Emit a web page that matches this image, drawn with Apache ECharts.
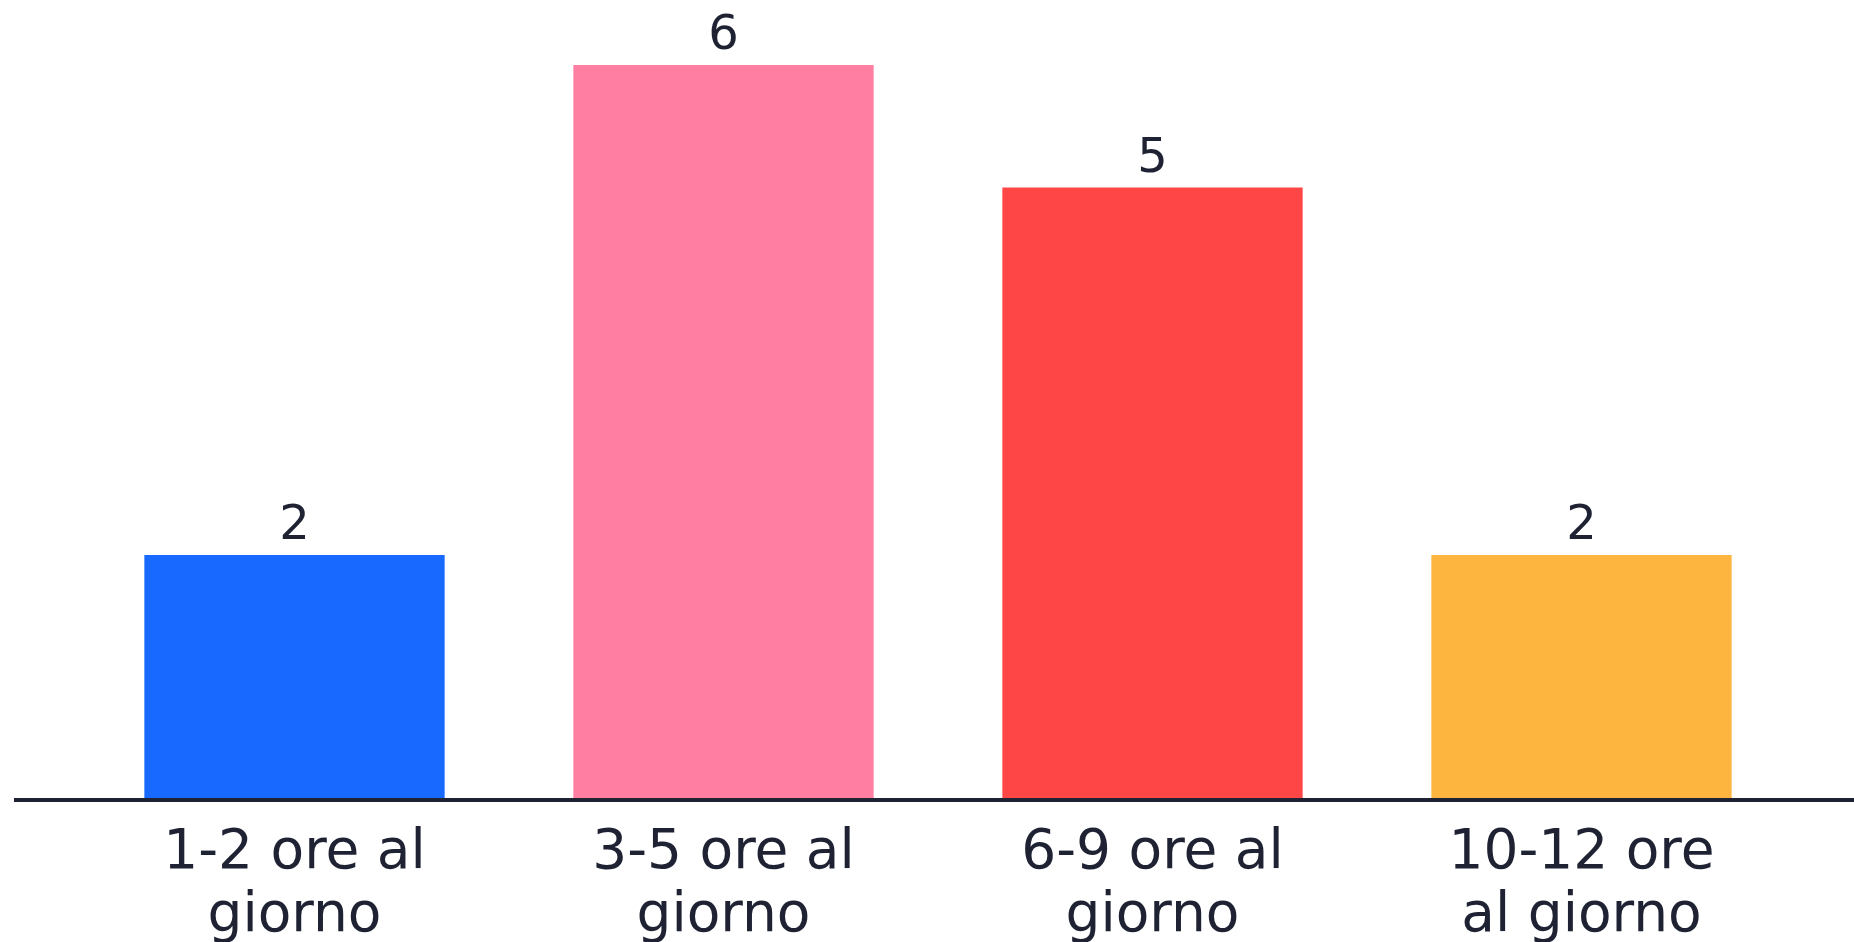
<!DOCTYPE html>
<html>
<head>
<meta charset="utf-8">
<script src="https://cdn.jsdelivr.net/npm/echarts@6/dist/echarts.min.js"></script>
<style>
html,body{margin:0;padding:0;background:#fff;}
#chart{width:1854px;height:942px;}
</style>
</head>
<body>
<div id="chart"></div>
<script>
const categories = ["1-2 ore al\ngiorno", "3-5 ore al\ngiorno", "6-9 ore al\ngiorno", "10-12 ore\nal giorno"];
const values = [2, 6, 5, 2];
const barColors = ["#1769FF", "#FF7EA1", "#FF4646", "#FDB540"];

const FONT = "DejaVu Sans";
const chart = echarts.init(document.getElementById('chart'), null, {renderer: 'canvas'});
const option = {
  animation: false,
  backgroundColor: '#ffffff',
  grid: {left: 80, right: 58, top: 65, bottom: 142, containLabel: false, outerBoundsMode: 'none'},
  xAxis: {
    type: 'category',
    data: categories,
    axisLine: {show: true, lineStyle: {color: '#1E2233', width: 4}},
    axisTick: {show: false},
    axisLabel: {
      color: '#1E2233', fontFamily: FONT, fontSize: 55, lineHeight: 63,
      margin: 22, interval: 0
    }
  },
  yAxis: {
    type: 'value', min: 0, max: 6,
    show: false,
    splitLine: {show: false}
  },
  series: [{
    type: 'bar',
    barCategoryGap: '30%',
    data: values.map((v, i) => ({value: v, itemStyle: {color: barColors[i]}})),
    label: {
      show: true, position: 'top', distance: 4,
      color: '#1E2233', fontFamily: FONT, fontSize: 48
    }
  }]
};
chart.setOption(option);
const y0 = chart.convertToPixel({yAxisIndex: 0}, 0);
chart.setOption({
  graphic: [{
    type: 'line', silent: true, z: 10,
    shape: {x1: 14, y1: y0, x2: 1854, y2: y0},
    style: {stroke: '#1E2233', lineWidth: 4}
  }]
});
</script>
</body>
</html>
